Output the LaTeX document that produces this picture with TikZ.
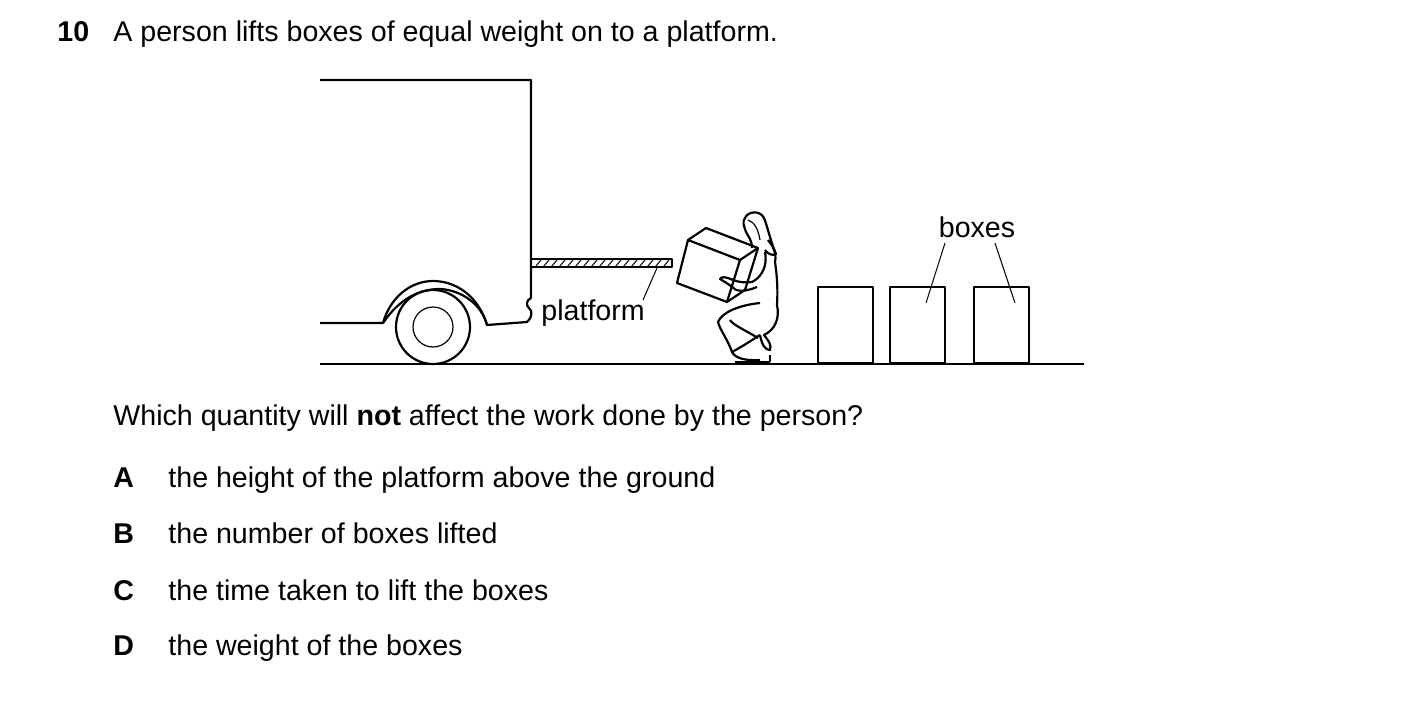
\documentclass[tikz,border=0pt]{standalone}
\usepackage{fontspec}
\setmainfont{Liberation Sans}
\begin{document}
\begin{tikzpicture}[x=0.5pt,y=-0.5pt]
    \tikzset{
        txt/.style={anchor=base west,inner sep=0pt,font=\fontsize{14.3}{16}\selectfont},
        lbl/.style={inner sep=0pt,font=\fontsize{14.3}{16}\selectfont},
        thick line/.style={line width=1.1pt,line join=round},
        thin line/.style={line width=0.6pt},
        leader/.style={line width=0.5pt}
    }
    \useasboundingbox (0,0) rectangle (1403,712);

    % question text
    \node[txt,font=\fontsize{14.3}{16}\selectfont\bfseries] (num) at (57,41) {10};
    \node[txt] (stem) at (113,41) {A person lifts boxes of equal weight on to a platform.};
    \node[txt] (ask) at (113,425) {Which quantity will \textbf{not} affect the work done by the person?};
    \foreach \l/\t/\y in {A/the height of the platform above the ground/487,
                          B/the number of boxes lifted/543,
                          C/the time taken to lift the boxes/600,
                          D/the weight of the boxes/655}{
        \node[txt,font=\fontsize{14.3}{16}\selectfont\bfseries] (opt\l) at (113,\y) {\l};
        \node[txt] (ans\l) at (168,\y) {\t};
    }

    % ground
    \coordinate (gl) at (320,364);
    \coordinate (gr) at (1084,364);
    \draw[thick line] (gl) -- (gr);

    % truck
    \draw[thick line] (320,80) -- (531,80) -- (531,298)
        .. controls (526,300) and (526,306) .. (529,308)
        .. controls (533,311) and (532,318) .. (527,322) -- (487,325)
        .. controls (478,295) and (455,281) .. (433,281)
        .. controls (410,281) and (390,298) .. (383,323) -- (320,323);
    \draw[thick line] (487,325) .. controls (482,305) and (462,290) .. (440,289)
        .. controls (420,289) and (400,298) .. (383,323);
    \node[circle,draw,thick line,minimum size=74pt*0.5,inner sep=0pt] (wheel) at (433,327) {};
    \node[circle,draw,thin line,minimum size=40pt*0.5,inner sep=0pt] (hub) at (433,327) {};

    % platform
    \draw[thick line] (531,259) rectangle (672,267);
    \foreach \x in {536,544,...,668}{
        \draw[leader] (\x,266) -- (\x+5,260);
    }
    \node[lbl,anchor=west] (plat) at (541,313) {platform};
    \coordinate (platend) at (657,268);
    \draw[leader] (643,300) -- (platend);

    % person
    \draw[thick line] (760,360) .. controls (745,361) and (735,358) .. (732,352)
        .. controls (745,345) and (755,338) .. (760,335);
    \draw[thick line] (732,352) .. controls (728,340) and (720,330) .. (718,322)
        .. controls (722,312) and (740,305) .. (760,303);
    \draw[thick line] (760,335) .. controls (762,345) and (765,350) .. (770,350)
        .. controls (772,345) and (768,340) .. (764,335)
        .. controls (775,330) and (780,318) .. (777,305)
        .. controls (778,290) and (777,275) .. (775,262)
        .. controls (777,252) and (772,245) .. (768,240);
    \draw[thick line] (770,355) -- (770,362) (735,362) -- (770,362);
    \draw[thick line] (758,338) .. controls (745,330) and (733,325) .. (730,320);
    % head and hair
    \draw[thick line] (752,248) .. controls (752,240) and (748,236) .. (746,232)
        .. controls (744,226) and (742,222) .. (745,218)
        .. controls (748,211) and (760,210) .. (764,218)
        .. controls (768,228) and (770,240) .. (776,254)
        .. controls (772,256) and (768,254) .. (765,250);
    \draw[thin line] (748,220) .. controls (754,222) and (758,228) .. (760,240);
    % arm
    \draw[thick line] (765,252) .. controls (768,268) and (760,278) .. (752,282)
        .. controls (745,283) and (738,282) .. (733,280)
        (736,290) .. controls (742,292) and (750,290) .. (757,287);

    % box being lifted
    \draw[thick line,fill=white] (688,240) -- (740,260) -- (727,302) -- (677,283) -- cycle;
    \draw[thick line] (688,240) -- (706,228) -- (758,248) -- (740,260)
        (758,248) -- (745,290) -- (727,302);
    \draw[thick line] (733,280) .. controls (726,277) and (722,276) .. (720,279)
        .. controls (725,282) and (730,285) .. (736,290);

    % boxes
    \foreach \x/\n in {817/1,889/2,973/3}{
        \node[draw,thick line,anchor=south west,minimum width=55pt*0.5,minimum height=76pt*0.5,inner sep=0pt] (box\n) at (\x,364) {};
    }
    \node[lbl] (boxlbl) at (977,227) {boxes};
    \coordinate (b2pt) at (926,303);
    \coordinate (b3pt) at (1015,303);
    \draw[leader] (945,243) -- (b2pt);
    \draw[leader] (995,243) -- (b3pt);
\end{tikzpicture}
\end{document}
